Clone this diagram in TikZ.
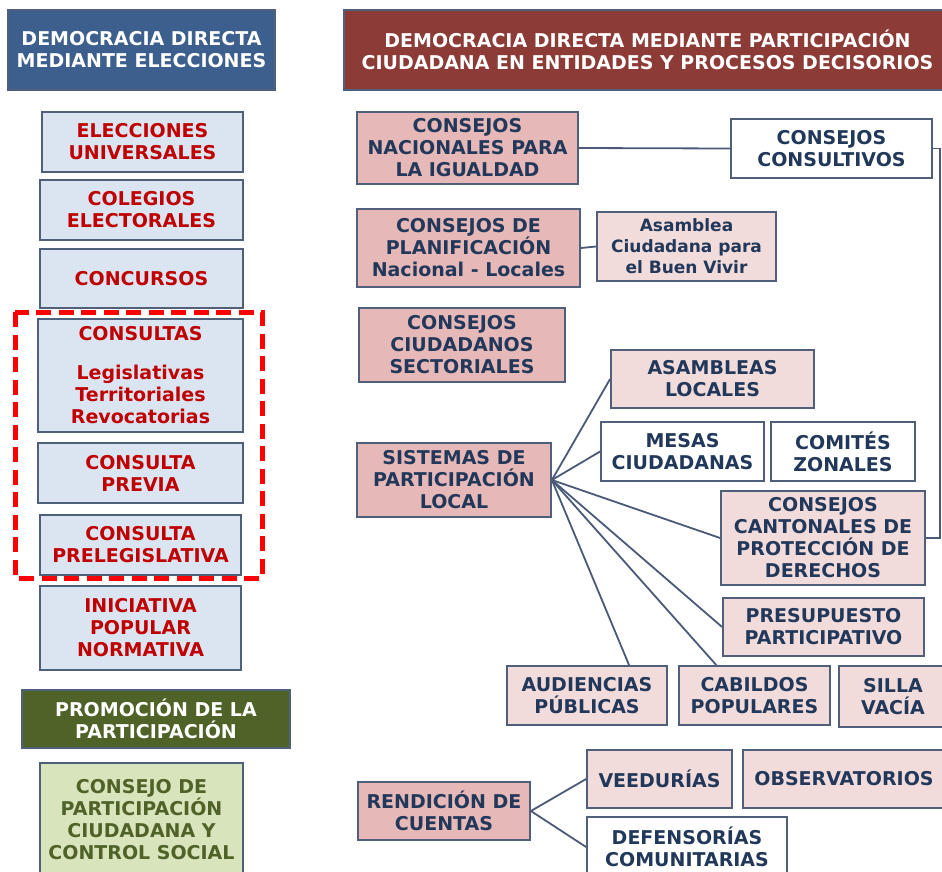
\documentclass[tikz,border=0pt]{standalone}
\usepackage{fontspec}
\setmainfont{DejaVu Sans}
\usetikzlibrary{calc}
\definecolor{hblue}{HTML}{3C5F8D}
\definecolor{hred}{HTML}{8C3B37}
\definecolor{hgreen}{HTML}{4F6228}
\definecolor{lblue}{HTML}{DBE5F1}
\definecolor{redtxt}{HTML}{C00000}
\definecolor{bordc}{HTML}{505F7A}
\definecolor{pinkd}{HTML}{E6B8B7}
\definecolor{pinkl}{HTML}{F2DCDB}
\definecolor{lgreen}{HTML}{D8E4BC}
\definecolor{navy}{HTML}{22385A}
\definecolor{linec}{HTML}{4A5A78}
\begin{document}
\begin{tikzpicture}[x=1pt,y=-1pt,
  base/.style={draw=bordc, line width=1.8pt, inner sep=0pt, align=center,
    font=\bfseries\fontsize{19}{22}\selectfont},
  hdr/.style={base, text=white},
  bluebox/.style={base, fill=lblue, text=redtxt},
  greenbox/.style={base, fill=lgreen, text=hgreen},
  pinkbox/.style={base, fill=pinkd, text=navy},
  lpinkbox/.style={base, fill=pinkl, text=navy},
  whitebox/.style={base, fill=white, text=navy},
  conn/.style={draw=linec, line width=1.8pt},
  redframe/.style={draw=red, line width=5pt, dash pattern=on 15pt off 7.5pt}
]
\useasboundingbox (0,0) rectangle (942,871);
\clip (0,0) rectangle (942,871);
\fill[white] (0,0) rectangle (942,871);

% ---------- left column ----------
\node[hdr, fill=hblue, minimum width=267pt, minimum height=80pt] (hL) at (141.5,50) {DEMOCRACIA DIRECTA\\MEDIANTE ELECCIONES};
\node[bluebox, minimum width=201pt, minimum height=60pt] (e1) at (142.5,142) {ELECCIONES\\UNIVERSALES};
\node[bluebox, minimum width=203pt, minimum height=60pt] (e2) at (141.5,210) {COLEGIOS\\ELECTORALES};
\node[bluebox, minimum width=203pt, minimum height=59pt] (e3) at (141.5,278.5) {CONCURSOS};
\node[bluebox, minimum width=205pt, minimum height=113pt] (e4) at (140.5,375.5) {CONSULTAS\\[17pt]Legislativas\\Territoriales\\Revocatorias};
\node[bluebox, minimum width=205pt, minimum height=60pt] (e5) at (140.5,473) {CONSULTA\\PREVIA};
\node[bluebox, minimum width=201pt, minimum height=60pt] (e6) at (140.5,545) {CONSULTA\\PRELEGISLATIVA};
\node[bluebox, minimum width=201pt, minimum height=84pt] (e7) at (140.5,628) {INICIATIVA\\POPULAR\\NORMATIVA};
\node[hdr, fill=hgreen, minimum width=268pt, minimum height=58pt] (hP) at (156,719) {PROMOCIÓN DE LA\\PARTICIPACIÓN};
\node[greenbox, minimum width=203pt, minimum height=114pt] (e8) at (141.5,820) {CONSEJO DE\\PARTICIPACIÓN\\CIUDADANA Y\\CONTROL SOCIAL};
\draw[redframe] (15,312) rectangle (262,578);

% ---------- right column ----------
\node[hdr, fill=hred, minimum width=607pt, minimum height=80pt] (hR) at (647.5,50) {DEMOCRACIA DIRECTA MEDIANTE PARTICIPACIÓN\\CIUDADANA EN ENTIDADES Y PROCESOS DECISORIOS};
\node[pinkbox, minimum width=221pt, minimum height=72pt] (r1) at (467.5,148) {CONSEJOS\\NACIONALES PARA\\LA IGUALDAD};
\node[whitebox, minimum width=201pt, minimum height=59pt] (r2) at (831.5,148.5) {CONSEJOS\\CONSULTIVOS};
\node[pinkbox, minimum width=223pt, minimum height=78pt] (r3) at (468.5,248) {CONSEJOS DE\\PLANIFICACIÓN\\Nacional - Locales};
\node[lpinkbox, minimum width=179pt, minimum height=69pt, font=\bfseries\fontsize{17}{21}\selectfont] (r4) at (686.5,246.5) {Asamblea\\Ciudadana para\\el Buen Vivir};
\node[pinkbox, minimum width=206pt, minimum height=74pt] (r5) at (462,345) {CONSEJOS\\CIUDADANOS\\SECTORIALES};
\node[lpinkbox, minimum width=203pt, minimum height=58pt] (r6) at (712.5,379) {ASAMBLEAS\\LOCALES};
\node[whitebox, minimum width=163pt, minimum height=59pt] (r7) at (682.5,451.5) {MESAS\\CIUDADANAS};
\node[whitebox, minimum width=144pt, minimum height=59pt] (r8) at (843,451.5) {COMITÉS\\ZONALES};
\node[pinkbox, minimum width=194pt, minimum height=74pt] (r9) at (454,480) {SISTEMAS DE\\PARTICIPACIÓN\\LOCAL};
\node[lpinkbox, minimum width=204pt, minimum height=94pt] (r10) at (823,538) {CONSEJOS\\CANTONALES DE\\PROTECCIÓN DE\\DERECHOS};
\node[lpinkbox, minimum width=201pt, minimum height=58pt] (r11) at (823.5,627) {PRESUPUESTO\\PARTICIPATIVO};
\node[lpinkbox, minimum width=160pt, minimum height=59pt] (r12) at (587,695.5) {AUDIENCIAS\\PÚBLICAS};
\node[lpinkbox, minimum width=151pt, minimum height=59pt] (r13) at (754.5,695.5) {CABILDOS\\POPULARES};
\node[lpinkbox, minimum width=108pt, minimum height=61pt] (r14) at (893,696.5) {SILLA\\VACÍA};
\node[lpinkbox, minimum width=145pt, minimum height=58pt] (r15) at (659.5,779) {VEEDURÍAS};
\node[lpinkbox, minimum width=202pt, minimum height=58pt] (r16) at (844,779) {OBSERVATORIOS};
\node[pinkbox, minimum width=172pt, minimum height=58pt] (r17) at (444,811) {RENDICIÓN DE\\CUENTAS};
\node[whitebox, minimum width=200pt, minimum height=60pt] (r18) at (687,847) {DEFENSORÍAS\\COMUNITARIAS};

% ---------- connectors ----------
\coordinate (bend) at (940,148.5);
\draw[conn] (r1.east) -- (r2.west);
\draw[conn] (r3.east) -- (r4.west);
\draw[conn] (r2.east) -- (bend) |- (r10.east);
\draw[conn] (r9.east) -- (r6.west);
\draw[conn] (r9.east) -- (r7.west);
\draw[conn] (r9.east) -- (r10.west);
\draw[conn] (r9.east) -- (r11.west);
\draw[conn] (r9.east) -- ($(r13.north west)!0.25!(r13.north east)$);
\draw[conn] (r9.east) -- ($(r12.north west)!0.76!(r12.north east)$);
\draw[conn] (r17.east) -- (r15.west);
\draw[conn] (r17.east) -- (r18.west);
\end{tikzpicture}
\end{document}
